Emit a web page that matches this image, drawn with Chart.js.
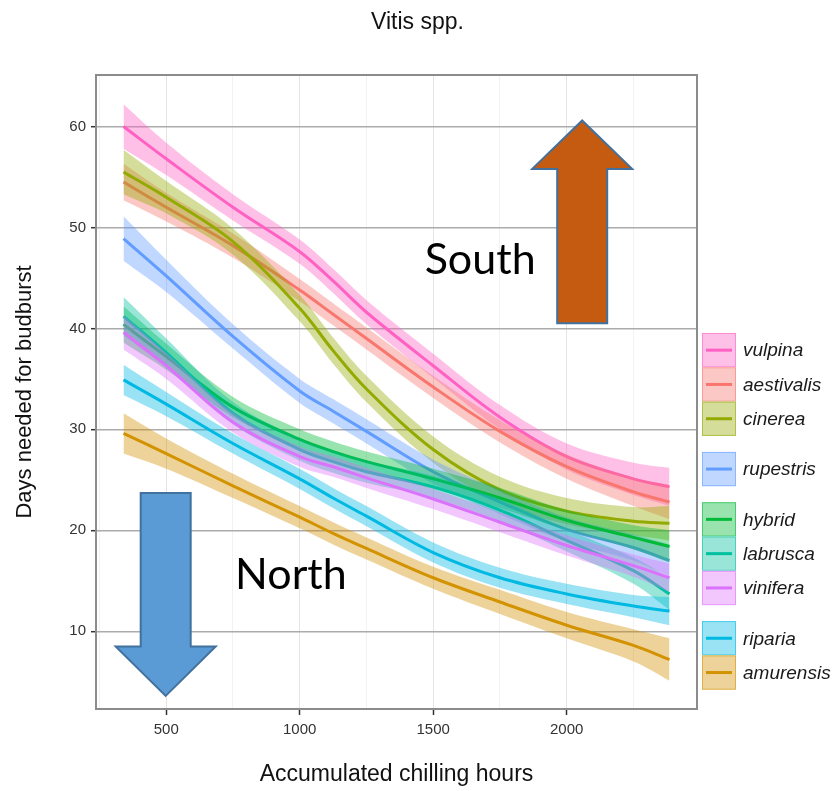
<!DOCTYPE html>
<html>
<head>
<meta charset="utf-8">
<script src="https://cdn.jsdelivr.net/npm/chart.js@4.4.1/dist/chart.umd.min.js"></script>
<style>
  html, body { margin: 0; padding: 0; background: #ffffff; }
  #wrap { width: 835px; height: 791px; }
</style>
</head>
<body>
<div id="wrap"><canvas id="chart" width="835" height="791"></canvas></div>
<script>
// Accumulated chilling hours at which the loess fits are evaluated
const chillHours = [340, 500, 750, 1000, 1125, 1250, 1500, 1750, 2000, 2250, 2385];

// Species (legend order) and their colours
const speciesNames = ['vulpina', 'aestivalis', 'cinerea', 'rupestris', 'hybrid', 'labrusca', 'vinifera', 'riparia', 'amurensis'];
const speciesColors = ['#FF61C3', '#F8766D', '#93AA00', '#619CFF', '#00BA38', '#00C19F', '#DB72FB', '#00B9E3', '#D39200'];
const legendGroup = [0, 0, 0, 1, 2, 2, 2, 3, 3];

// Fitted days to budburst with confidence band (lower / upper)
const vulpinaFit   = [60.0, 56.8, 52.0, 47.6, 44.7, 41.6, 36.3, 31.2, 27.3, 25.1, 24.3];
const vulpinaLow   = [57.8, 55.2, 50.7, 46.4, 43.5, 40.4, 35.1, 30.0, 26.0, 23.5, 22.4];
const vulpinaHigh  = [62.2, 58.4, 53.3, 48.8, 45.9, 42.8, 37.5, 32.4, 28.6, 26.7, 26.2];

const aestivalisFit  = [54.5, 52.0, 48.2, 43.8, 41.4, 39.0, 34.2, 29.8, 26.3, 23.8, 22.8];
const aestivalisLow  = [52.7, 50.6, 47.0, 42.7, 40.3, 37.9, 33.1, 28.7, 25.1, 22.4, 21.1];
const aestivalisHigh = [56.3, 53.4, 49.4, 44.9, 42.5, 40.1, 35.3, 30.9, 27.5, 25.2, 24.5];

const cinereaFit   = [55.5, 53.0, 48.6, 42.0, 37.8, 34.0, 28.0, 24.0, 21.9, 20.9, 20.7];
const cinereaLow   = [53.3, 51.4, 47.3, 40.7, 36.5, 32.7, 26.7, 22.7, 20.6, 19.5, 19.0];
const cinereaHigh  = [57.7, 54.6, 49.9, 43.3, 39.1, 35.3, 29.3, 25.3, 23.2, 22.3, 22.4];

const rupestrisFit  = [48.9, 45.2, 39.2, 33.8, 31.8, 29.8, 25.8, 22.8, 20.1, 18.3, 17.0];
const rupestrisLow  = [46.7, 43.6, 38.0, 32.6, 30.6, 28.6, 24.6, 21.6, 18.9, 17.0, 15.4];
const rupestrisHigh = [51.1, 46.8, 40.4, 35.0, 33.0, 31.0, 27.0, 24.0, 21.3, 19.6, 18.6];

const hybridFit   = [40.4, 37.2, 32.2, 29.0, 27.8, 26.8, 25.1, 23.2, 21.0, 19.3, 18.4];
const hybridLow   = [38.6, 35.9, 31.2, 28.0, 26.8, 25.8, 24.1, 22.2, 20.0, 18.1, 16.8];
const hybridHigh  = [42.2, 38.5, 33.2, 30.0, 28.8, 27.8, 26.1, 24.2, 22.0, 20.5, 20.0];

const labruscaFit  = [41.2, 37.6, 31.6, 28.0, 26.8, 25.8, 24.3, 22.0, 19.0, 16.0, 13.7];
const labruscaLow  = [39.3, 36.2, 30.5, 26.9, 25.7, 24.7, 23.2, 20.9, 17.9, 14.7, 12.1];
const labruscaHigh = [43.1, 39.0, 32.7, 29.1, 27.9, 26.9, 25.4, 23.1, 20.1, 17.3, 15.3];

const viniferaFit  = [39.6, 36.3, 30.7, 27.3, 26.3, 25.2, 23.1, 20.8, 18.5, 16.5, 15.3];
const viniferaLow  = [37.9, 35.0, 29.7, 26.3, 25.3, 24.2, 22.1, 19.8, 17.5, 15.4, 13.9];
const viniferaHigh = [41.3, 37.6, 31.7, 28.3, 27.3, 26.2, 24.1, 21.8, 19.5, 17.6, 16.7];

const ripariaFit  = [34.9, 32.5, 28.6, 25.1, 23.2, 21.4, 17.8, 15.3, 13.7, 12.5, 12.0];
const ripariaLow  = [33.4, 31.3, 27.6, 24.1, 22.2, 20.4, 16.8, 14.3, 12.7, 11.4, 10.6];
const ripariaHigh = [36.4, 33.7, 29.6, 26.1, 24.2, 22.4, 18.8, 16.3, 14.7, 13.6, 13.4];

const amurensisFit  = [29.6, 27.6, 24.4, 21.3, 19.7, 18.2, 15.3, 12.9, 10.6, 8.6, 7.2];
const amurensisLow  = [27.6, 26.1, 23.2, 20.2, 18.6, 17.1, 14.2, 11.7, 9.3, 7.0, 5.1];
const amurensisHigh = [31.6, 29.1, 25.6, 22.4, 20.8, 19.3, 16.4, 14.1, 11.9, 10.2, 9.3];

// Axis ticks
const xTickValues = [250, 500, 750, 1000, 1250, 1500, 1750, 2000, 2250];
const xTickLabels = ['', '500', '', '1000', '', '1500', '', '2000', ''];
const yTickValues = [10, 20, 30, 40, 50, 60];

const fitTable = [
  [vulpinaFit, vulpinaLow, vulpinaHigh],
  [aestivalisFit, aestivalisLow, aestivalisHigh],
  [cinereaFit, cinereaLow, cinereaHigh],
  [rupestrisFit, rupestrisLow, rupestrisHigh],
  [hybridFit, hybridLow, hybridHigh],
  [labruscaFit, labruscaLow, labruscaHigh],
  [viniferaFit, viniferaLow, viniferaHigh],
  [ripariaFit, ripariaLow, ripariaHigh],
  [amurensisFit, amurensisLow, amurensisHigh]
];

function rgba(hex, a) {
  const n = parseInt(hex.slice(1), 16);
  return `rgba(${(n >> 16) & 255},${(n >> 8) & 255},${n & 255},${a})`;
}
const toPoints = arr => chillHours.map((h, j) => ({ x: h, y: arr[j] }));
const SMOOTH = 0.35;

// Each species: ribbon (upper filled down to lower) then the fitted line on top;
// later species are painted over earlier ones.
const datasets = [];
speciesNames.forEach((name, i) => {
  const [fit, low, high] = fitTable[i];
  const col = speciesColors[i];
  const base = (speciesNames.length - 1 - i) * 3;
  datasets.push({
    label: name + ' upper', data: toPoints(high), order: base + 2,
    borderWidth: 0, borderColor: 'rgba(0,0,0,0)', pointRadius: 0,
    backgroundColor: rgba(col, 0.4), fill: '+1', tension: SMOOTH
  });
  datasets.push({
    label: name + ' lower', data: toPoints(low), order: base + 1,
    borderWidth: 0, borderColor: 'rgba(0,0,0,0)', pointRadius: 0,
    fill: false, tension: SMOOTH
  });
  datasets.push({
    label: name, data: toPoints(fit), order: base,
    borderWidth: 3, borderColor: col, pointRadius: 0,
    fill: false, tension: SMOOTH
  });
});

const FONT = "'Liberation Sans', Arial, Helvetica, sans-serif";

function drawArrow(ctx, cx, yTip, yBase, yTail, headHalf, shaftHalf, fill, stroke) {
  ctx.save();
  ctx.beginPath();
  ctx.moveTo(cx, yTip);
  ctx.lineTo(cx + headHalf, yBase);
  ctx.lineTo(cx + shaftHalf, yBase);
  ctx.lineTo(cx + shaftHalf, yTail);
  ctx.lineTo(cx - shaftHalf, yTail);
  ctx.lineTo(cx - shaftHalf, yBase);
  ctx.lineTo(cx - headHalf, yBase);
  ctx.closePath();
  ctx.fillStyle = fill;
  ctx.fill();
  ctx.lineWidth = 2;
  ctx.strokeStyle = stroke;
  ctx.lineJoin = 'miter';
  ctx.stroke();
  ctx.restore();
}

const decor = {
  id: 'decor',
  afterDatasetsDraw(chart) {
    const { ctx, chartArea: a } = chart;
    ctx.save();
    ctx.strokeStyle = '#8c8c8c';
    ctx.lineWidth = 2;
    ctx.strokeRect(a.left, a.top, a.right - a.left, a.bottom - a.top);
    ctx.restore();
  },
  afterDraw(chart) {
    const { ctx } = chart;
    const xs = chart.scales.x, ys = chart.scales.y;

    // chart title
    ctx.save();
    ctx.fillStyle = '#111';
    ctx.font = `23px ${FONT}`;
    ctx.textAlign = 'center';
    ctx.textBaseline = 'middle';
    ctx.fillText('Vitis spp.', chart.width / 2, 23);
    ctx.restore();

    // direction arrows and labels
    drawArrow(ctx, xs.getPixelForValue(2058), ys.getPixelForValue(60.6), ys.getPixelForValue(55.8),
      ys.getPixelForValue(40.5), 50, 25, '#C55A11', '#41719C');
    drawArrow(ctx, xs.getPixelForValue(498), ys.getPixelForValue(3.6), ys.getPixelForValue(8.5),
      ys.getPixelForValue(23.7), 50, 25, '#5B9BD5', '#41719C');

    ctx.save();
    ctx.fillStyle = '#000';
    ctx.font = `43px Lato, 'Open Sans', sans-serif`;
    ctx.textAlign = 'left';
    ctx.textBaseline = 'alphabetic';
    ctx.fillText('South', xs.getPixelForValue(1468), ys.getPixelForValue(45.4));
    ctx.fillText('North', xs.getPixelForValue(758), ys.getPixelForValue(14.2));
    ctx.restore();

    // legend
    const keyX = 702, keyW = 34, keyH = 34.3, top0 = 333, gap = 16;
    ctx.save();
    speciesNames.forEach((name, i) => {
      const y = top0 + i * keyH + legendGroup[i] * gap;
      const col = speciesColors[i];
      ctx.fillStyle = '#ffffff';
      ctx.fillRect(keyX, y, keyW, keyH);
      ctx.fillStyle = rgba(col, 0.4);
      ctx.fillRect(keyX, y, keyW, keyH);
      ctx.strokeStyle = rgba(col, 0.55);
      ctx.lineWidth = 1;
      ctx.strokeRect(keyX + 0.5, y + 0.5, keyW - 1, keyH - 1);
      ctx.strokeStyle = col;
      ctx.lineWidth = 3;
      ctx.beginPath();
      ctx.moveTo(keyX + 4, y + keyH / 2);
      ctx.lineTo(keyX + keyW - 4, y + keyH / 2);
      ctx.stroke();
      ctx.fillStyle = '#1a1a1a';
      ctx.font = `italic 19px ${FONT}`;
      ctx.textAlign = 'left';
      ctx.textBaseline = 'middle';
      ctx.fillText(name, keyX + keyW + 7, y + keyH / 2 + 1);
    });
    ctx.restore();
  }
};

new Chart(document.getElementById('chart'), {
  type: 'line',
  data: { datasets },
  options: {
    responsive: false,
    animation: false,
    events: [],
    layout: { padding: { left: 0, right: 138, top: 75, bottom: 0 } },
    plugins: { legend: { display: false }, title: { display: false }, tooltip: { enabled: false } },
    scales: {
      x: {
        type: 'linear', min: 237, max: 2488,
        afterBuildTicks: s => { s.ticks = xTickValues.map(v => ({ value: v })); },
        afterFit: s => { s.height = 82; },
        ticks: {
          autoSkip: false, maxRotation: 0, padding: 6,
          color: '#333', font: { family: FONT, size: 15 },
          callback: (v, idx) => xTickLabels[idx]
        },
        grid: {
          color: c => (c.tick && c.tick.value % 500 === 0) ? '#e4e4e4' : '#f2f2f2',
          lineWidth: 1,
          tickLength: 6,
          tickColor: c => (c.tick && c.tick.value % 500 === 0) ? '#333' : 'rgba(0,0,0,0)',
          tickWidth: 1.5
        },
        border: { display: false },
        title: { display: true, text: 'Accumulated chilling hours', color: '#111',
                 font: { family: FONT, size: 23 }, padding: { top: 0, bottom: 3 } }
      },
      y: {
        type: 'linear', min: 2.3, max: 65.1,
        afterBuildTicks: s => { s.ticks = yTickValues.map(v => ({ value: v })); },
        afterFit: s => { s.width = 96; },
        ticks: { padding: 5, color: '#333', font: { family: FONT, size: 15 } },
        grid: { color: '#ababab', lineWidth: 1.4, tickLength: 5, tickColor: '#333', tickWidth: 1.5 },
        border: { display: false },
        title: { display: true, text: 'Days needed for budburst', color: '#111',
                 font: { family: FONT, size: 22 }, padding: { top: 12, bottom: 0 } }
      }
    }
  },
  plugins: [decor]
});
</script>
</body>
</html>
